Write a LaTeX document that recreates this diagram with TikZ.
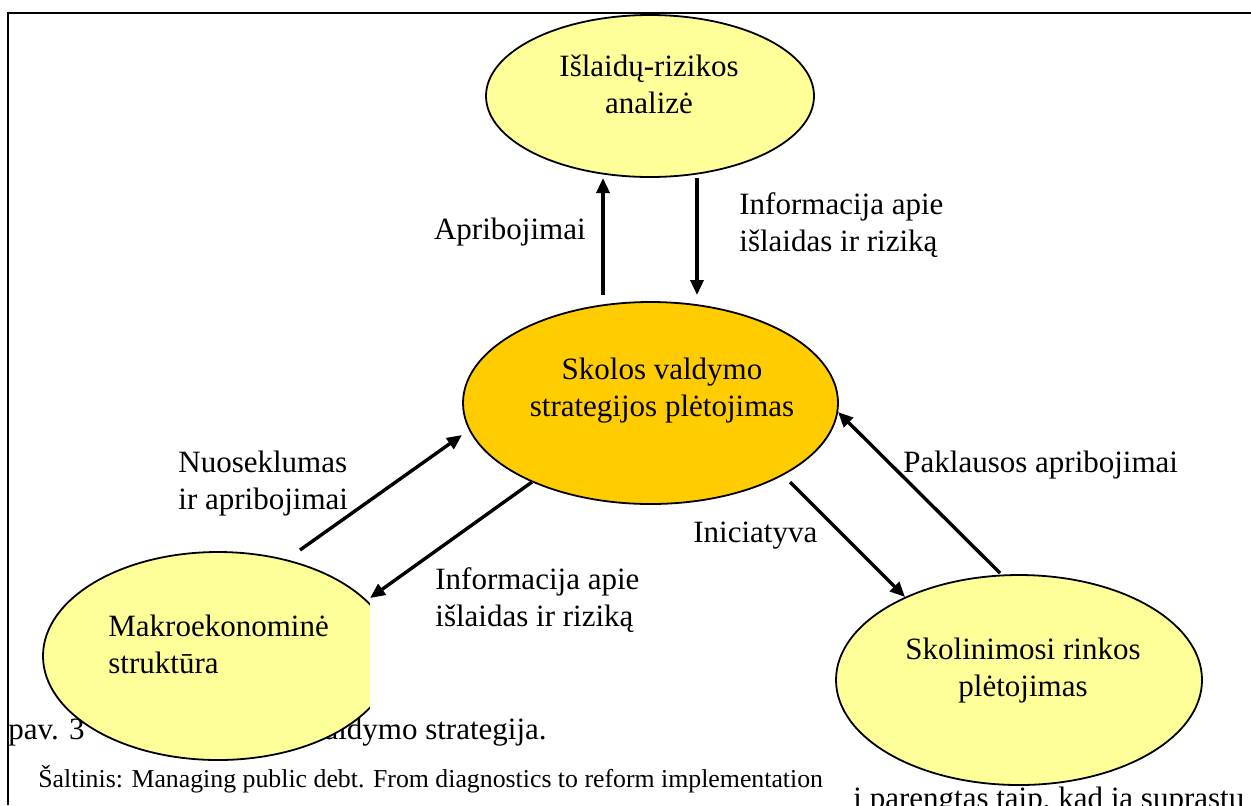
\documentclass[tikz,border=0pt]{standalone}
\usepackage{fontspec}
\setmainfont{Liberation Serif}
\usetikzlibrary{shapes.geometric,arrows.meta}
\definecolor{paleyellow}{HTML}{FFFF99}
\definecolor{gold}{HTML}{FFCC00}
% two stacked lines whose reference point is the first baseline
\newcommand\TwoRow[3]{\begin{tabular}[t]{@{}#1@{}}#2\\#3\end{tabular}}

\begin{document}
\begin{tikzpicture}[x=0.5pt,y=-0.5pt,
  bubble/.style={ellipse,draw=black,line width=0.9pt,inner sep=0pt,fill=paleyellow},
  txt/.style={inner sep=0pt,font=\fontsize{15.5}{18.5}\selectfont},
  smalltxt/.style={inner sep=0pt,font=\fontsize{12.9}{15.5}\selectfont},
  flow/.style={line width=1.7pt,-{Triangle[length=7.5pt,width=6.5pt]}},
  pageframe/.style={line width=1pt}]
\useasboundingbox (0,0) rectangle (1251,805);

% page frame (left and top rules)
\coordinate (fTL) at (8,13);
\coordinate (fTR) at (1251,13);
\coordinate (fBL) at (8,805);
\draw[pageframe] (fBL) -- (fTL) -- (fTR);

% caption and source lines of the page
\node[txt,anchor=base west] (cap1) at (8,739) {pav. 3};
\node[txt,anchor=base east] (cap2) at (547,739) {valdymo strategija.};
\node[smalltxt,anchor=base west] (src) at (38,787) {Šaltinis: Managing public debt. From diagnostics to reform implementation};
\node[txt,anchor=base west] (cont) at (853,808) {i parengtas taip, kad ją suprastų};

% ellipses
\node[bubble,minimum width=164pt,minimum height=81pt] (cost) at (650,96) {};
\node[bubble,fill=gold,minimum width=187.5pt,minimum height=101pt] (strat) at (650.5,403) {};
\node[bubble,minimum width=175pt,minimum height=104pt] (macro) at (218,656) {};
\fill[white] (370,598) rectangle (396,715);
\node[bubble,minimum width=183pt,minimum height=105pt] (market) at (1019,680) {};

% ellipse texts
\node[txt,anchor=base] (costT) at (649,76) {\TwoRow{c}{Išlaidų-rizikos}{analizė}};
\node[txt,anchor=base] (stratT) at (662,379) {\TwoRow{c}{Skolos valdymo}{strategijos plėtojimas}};
\node[txt,anchor=base west] (macroT) at (108,636) {\TwoRow{l}{Makroekonominė}{struktūra}};
\node[txt,anchor=base] (marketT) at (1023,659) {\TwoRow{c}{Skolinimosi rinkos}{plėtojimas}};

% connector end points
\coordinate (upS) at (603,295);   \coordinate (upE) at (603,178);
\coordinate (dnS) at (697,178);   \coordinate (dnE) at (697,295);
\coordinate (nuS) at (300,550);   \coordinate (nuE) at (462,435);
\coordinate (ilS) at (532,482);   \coordinate (ilE) at (370,598);
\coordinate (inS) at (790,482);   \coordinate (inE) at (905,597);
\coordinate (paS) at (1000,573);  \coordinate (paE) at (838,412);

\draw[flow] (upS) -- (upE);
\draw[flow] (dnS) -- (dnE);
\draw[flow] (nuS) -- (nuE);
\draw[flow] (ilS) -- (ilE);
\draw[flow] (inS) -- (inE);
\draw[flow] (paS) -- (paE);

% connector labels
\node[txt,anchor=base east] (lApr) at (586,239) {Apribojimai};
\node[txt,anchor=base west] (lInfoTop) at (739,214) {\TwoRow{l}{Informacija apie}{išlaidas ir riziką}};
\node[txt,anchor=base west] (lNuos) at (178,472) {\TwoRow{l}{Nuoseklumas}{ir apribojimai}};
\node[txt,anchor=base west] (lInfoLow) at (435,589) {\TwoRow{l}{Informacija apie}{išlaidas ir riziką}};
\node[txt,anchor=base west] (lInit) at (693,542) {Iniciatyva};
\node[txt,anchor=base west] (lPakl) at (903,472) {Paklausos apribojimai};
\end{tikzpicture}
\end{document}
